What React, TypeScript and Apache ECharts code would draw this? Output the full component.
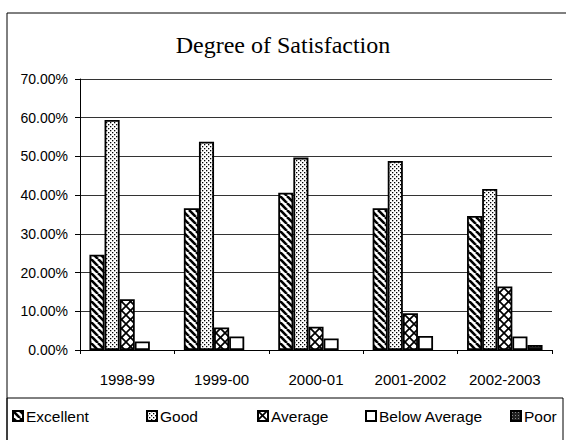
import React, { useEffect, useRef } from "react";
import * as echarts from "echarts";

const categories = ["1998-99", "1999-00", "2000-01", "2001-2002", "2002-2003"];
const seriesNames = ["Excellent", "Good", "Average", "Below Average", "Poor"];
const excellent = [24.6, 36.6, 40.6, 36.6, 34.6];
const good = [59.4, 53.8, 49.7, 48.8, 41.6];
const average = [13.1, 5.8, 6.0, 9.5, 16.4];
const belowAverage = [2.2, 3.5, 3.0, 3.6, 3.5];
const poor = [0, 0, 0, 0, 1.3];
const yTicks = [0, 10, 20, 30, 40, 50, 60, 70];

function makePattern(size: number, draw: (ctx: CanvasRenderingContext2D, s: number) => void) {
  const c = document.createElement("canvas");
  c.width = size;
  c.height = size;
  const ctx = c.getContext("2d")!;
  draw(ctx, size);
  return { image: c, repeat: "repeat" } as any;
}

export default function App() {
  const ref = useRef<HTMLDivElement>(null);
  useEffect(() => {
    if (!ref.current) return;
    document.body.style.margin = "0";
    const chart = echarts.init(ref.current, undefined, { renderer: "svg" });

    const pExcellent = makePattern(7, (ctx, s) => {
      ctx.fillStyle = "#fff";
      ctx.fillRect(0, 0, s, s);
      ctx.strokeStyle = "#000";
      ctx.lineWidth = 2.6;
      for (const k of [-1, 0, 1]) {
        ctx.beginPath();
        ctx.moveTo(k * s, 0);
        ctx.lineTo(k * s + s, s);
        ctx.stroke();
      }
    });
    const pGood = makePattern(4, (ctx, s) => {
      ctx.fillStyle = "#fff";
      ctx.fillRect(0, 0, s, s);
      ctx.fillStyle = "#000";
      ctx.fillRect(0, 0, 1.3, 1.3);
      ctx.fillRect(2, 2, 1.3, 1.3);
    });
    const pAverage = makePattern(9, (ctx, s) => {
      ctx.fillStyle = "#fff";
      ctx.fillRect(0, 0, s, s);
      ctx.strokeStyle = "#000";
      ctx.lineWidth = 1.7;
      for (const k of [-1, 0, 1]) {
        ctx.beginPath();
        ctx.moveTo(k * s, 0);
        ctx.lineTo(k * s + s, s);
        ctx.stroke();
        ctx.beginPath();
        ctx.moveTo(k * s + s, 0);
        ctx.lineTo(k * s, s);
        ctx.stroke();
      }
    });
    const pPoor = makePattern(3, (ctx, s) => {
      ctx.fillStyle = "#222";
      ctx.fillRect(0, 0, s, s);
      ctx.fillStyle = "#888";
      ctx.fillRect(1, 1, 1, 1);
    });

    const fills = [pExcellent, pGood, pAverage, "#ffffff", pPoor];
    const datas = [excellent, good, average, belowAverage, poor];
    const legendLefts = [12, 146, 257, 365, 510];

    chart.setOption({
      animation: false,
      backgroundColor: "#fff",
      title: {
        text: "Degree of Satisfaction",
        left: "center",
        top: 28,
        textStyle: {
          fontFamily: "Liberation Serif",
          fontSize: 24,
          fontWeight: "normal",
          color: "#000",
        },
      },
      grid: { left: 80, right: 14, top: 79, bottom: 90 },
      legend: seriesNames.map((n, i) => ({
        data: [n],
        left: legendLefts[i],
        top: 408,
        padding: 0,
        icon: "rect",
        itemWidth: 10,
        itemHeight: 10,
        itemGap: 0,
        textStyle: { fontFamily: "Liberation Sans", fontSize: 15.5, color: "#000", padding: [0, 0, 0, -2] },
        selectedMode: false,
      })),
      xAxis: {
        type: "category",
        data: categories,
        axisLine: { lineStyle: { color: "#000", width: 1 } },
        axisTick: { show: true, length: 4, lineStyle: { color: "#000" } },
        axisLabel: { margin: 22, fontFamily: "Liberation Sans", fontSize: 15, color: "#000", interval: 0 },
        splitLine: { show: false },
      },
      yAxis: {
        type: "value",
        min: 0,
        max: 70,
        interval: 10,
        axisLine: { show: true, lineStyle: { color: "#000", width: 1 } },
        axisTick: { show: true, length: 5, lineStyle: { color: "#000" } },
        axisLabel: {
          margin: 12,
          fontFamily: "Liberation Sans",
          fontSize: 14,
          color: "#000",
          formatter: (v: number) => (yTicks.includes(v) ? v.toFixed(2) + "%" : ""),
        },
        splitLine: { show: true, lineStyle: { color: "#333", width: 1 } },
      },
      series: seriesNames.map((n, i) => ({
        name: n,
        type: "bar",
        data: datas[i].map((v) => (v === 0 ? "-" : v)),
        barGap: "0%",
        barCategoryGap: "20%",
        itemStyle: { color: fills[i], borderColor: "#000", borderWidth: 1.8 },
      })),
      graphic: [
        {
          type: "rect",
          shape: { x: 7, y: 13, width: 620, height: 460 },
          style: { fill: "none", stroke: "#000", lineWidth: 1 },
          silent: true,
          z: 100,
        },
        {
          type: "rect",
          shape: { x: 7, y: 398, width: 556, height: 60 },
          style: { fill: "none", stroke: "#000", lineWidth: 1 },
          silent: true,
          z: 100,
        },
      ],
    });
    return () => chart.dispose();
  }, []);
  return <div ref={ref} style={{ width: 566, height: 440 }} />;
}
